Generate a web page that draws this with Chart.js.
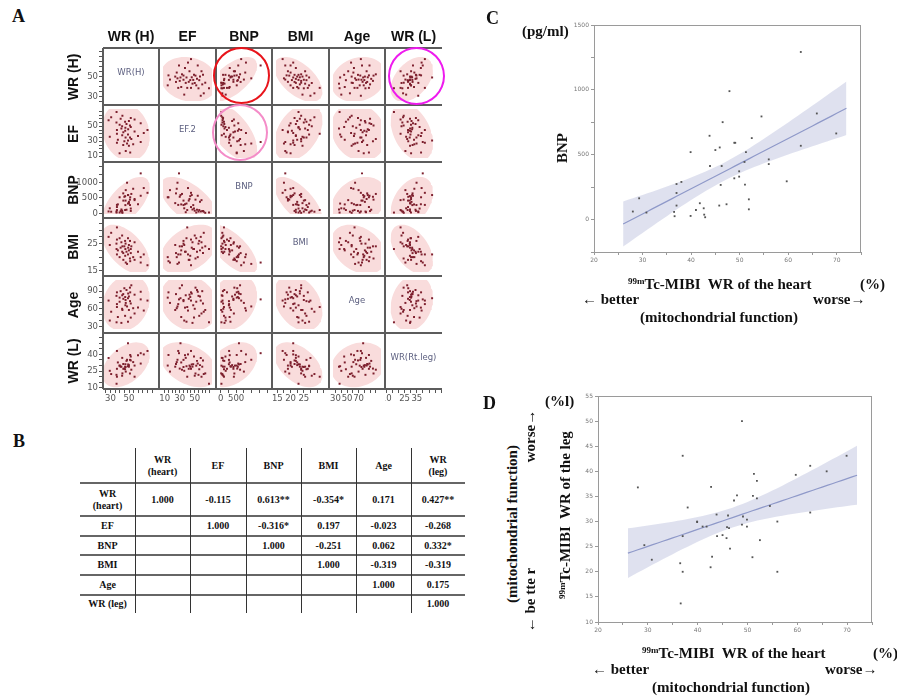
<!DOCTYPE html>
<html>
<head>
<meta charset="utf-8">
<script src="https://cdn.jsdelivr.net/npm/chart.js@4/dist/chart.umd.min.js"></script>
<style>
  body { margin: 0; width: 897px; height: 698px; position: relative; overflow: hidden; background: #fff; }
  .t { position: absolute; white-space: nowrap; font: bold 15px "Liberation Serif", serif; color: #111; line-height: 17px; }
  .t sup { font-size: 9px; vertical-align: 5px; line-height: 0; }
  .panel { position: absolute; font: bold 18px "Liberation Serif", serif; color: #111; }
  .rot { transform: translate(-50%, -50%) rotate(-90deg); }
  .hdr { position: absolute; font: bold 14px "Liberation Sans", Arial, sans-serif; color: #111; text-align: center; white-space: nowrap; }
  .diag { position: absolute; font: 8.5px "DejaVu Sans", sans-serif; color: #5d6080; text-align: center; white-space: nowrap; }
  .line { position: absolute; background: #5c5c5c; }
  .ring { position: absolute; border-radius: 50%; box-sizing: border-box; }
  .cell { position: absolute; font: bold 10px "Liberation Serif", serif; color: #111; text-align: center; display: flex; align-items: center; justify-content: center; line-height: 12px; white-space: pre; }
  canvas { position: absolute; }
</style>
</head>
<body>
<script>
// one entry per patient, paired by WR of the heart (panels C and D)
const WR_HEART = [28.0, 29.3, 30.8, 36.5, 36.6, 37.0, 37.0, 37.0, 38.0, 39.9, 39.9, 41.0, 41.8, 42.6, 42.7,
  42.9, 43.8, 43.9, 45.0, 45.8, 45.9, 46.1, 46.3, 46.5, 47.3, 47.9, 48.9, 49.1, 48.9, 49.9,
  49.9, 51.0, 51.1, 51.3, 51.9, 51.9, 52.5, 54.5, 56.0, 56.0, 59.7, 62.6, 62.6, 65.9, 69.9];
const BNP = [62, 164, 54, 59, 26, 274, 205, 108, 290, 520, 28, 74, 126, 87, 38,
  18, 646, 413, 536, 108, 556, 267, 413, 751, 118, 990, 592, 592, 318, 372,
  331, 444, 269, 520, 156, 79, 628, 795, 464, 428, 295, 1292, 569, 818, 664];
const WR_LEG = [36.8, 25.3, 22.4, 21.7, 13.7, 43.1, 27.1, 20.0, 32.8, 30.0, 29.9, 29.0, 29.0, 20.9, 36.9,
  23.0, 31.4, 27.1, 27.3, 26.7, 28.9, 31.2, 28.7, 24.6, 34.2, 35.2, 50.0, 31.0, 29.4, 30.4,
  29.0, 22.9, 35.1, 39.5, 38.1, 34.6, 26.3, 33.1, 30.0, 20.0, 39.3, 41.1, 31.8, 40.0, 43.1];
const EF = [58, 36, 62, 55, 69, 28, 45, 40, 32, 14, 52, 60, 47, 50, 38,
  64, 25, 42, 30, 56, 44, 48, 35, 17, 53, 27, 31, 46, 39, 57,
  24, 51, 35, 15, 49, 61, 33, 26, 43, 59, 37, 29, 54, 41, 45];
const BMI = [27.5, 24.5, 29, 25, 23, 21, 26.5, 31, 22.5, 20, 27, 23.5, 25.5, 28, 22,
  24, 21.5, 19, 24, 26, 20.5, 23, 25, 18, 22, 17.5, 21, 23.5, 27, 22.5,
  24.5, 19.5, 26, 18.5, 23, 21.5, 24, 20, 19, 25.5, 22, 18, 20, 21, 17];
const AGE = [74, 40, 55, 82, 37, 68, 88, 63, 46, 79, 72, 90, 36, 60, 83,
  58, 85, 77, 95, 48, 80, 66, 75, 70, 92, 64, 78, 86, 38, 81,
  58, 96, 73, 88, 45, 69, 100, 61, 84, 52, 62, 76, 89, 57, 74];

// scatter matrix axes
const HEADERS = ["WR (H)", "EF", "BNP", "BMI", "Age", "WR (L)"];
const DIAG_LABELS = ["WR(H)", "EF.2", "BNP", "BMI", "Age", "WR(Rt.leg)"];
const AXIS_MIN = [22, 7.7, -20, 14.5, 25.6, 9];
const AXIS_MAX = [78, 73, 1530, 33, 109, 55.6];
const TICK_STEP = [5, 5, 250, 2.5, 10, 5];
const Y_TICK_LABELS = [[30, 50], [10, 30, 50], [0, 500, 1000], [15, 25], [30, 60, 90], [10, 25, 40]];
const X_TICK_LABELS = [[30, 50], [10, 30, 50], [0, 500], [15, 20, 25], [30, 50, 70], [10, 25, 35]];
const ELLIPSE_CHI2 = 7.824; // 98% coverage

// correlation table (panel B)
const TABLE_HEAD = ["WR\n(heart)", "EF", "BNP", "BMI", "Age", "WR\n(leg)"];
const TABLE_ROWS = ["WR\n(heart)", "EF", "BNP", "BMI", "Age", "WR (leg)"];
const TABLE_VALUES = [
  ["1.000", "-0.115", "0.613**", "-0.354*", "0.171", "0.427**"],
  ["", "1.000", "-0.316*", "0.197", "-0.023", "-0.268"],
  ["", "", "1.000", "-0.251", "0.062", "0.332*"],
  ["", "", "", "1.000", "-0.319", "-0.319"],
  ["", "", "", "", "1.000", "0.175"],
  ["", "", "", "", "", "1.000"],
];

// regression panels
const C_X_LABELS = [20, 30, 40, 50, 60, 70];
const C_Y_LABELS = [0, 500, 1000, 1500];
const D_Y_LABELS = [10, 15, 20, 25, 30, 35, 40, 45, 50, 55];
const FIT_RANGE = [26, 72];
const T_975 = 2.017;

// layout
const COL_X = [103, 159, 216, 272, 329, 385, 442];
const ROW_Y = [48, 105, 162, 218, 276, 333, 389];
const Y_AXIS_W = 32, X_AXIS_H = 20;
const TABLE_X = [80, 135, 190, 246, 301, 356, 411, 465];
const TABLE_Y = [448, 483, 516, 536, 555, 575, 595, 613];

Chart.defaults.animation = false;
Chart.defaults.events = [];
Chart.defaults.plugins.legend.display = false;
Chart.defaults.plugins.tooltip.enabled = false;

function add(html, cls, css) {
  const d = document.createElement("div");
  d.className = cls;
  d.innerHTML = html;
  Object.assign(d.style, css);
  document.body.appendChild(d);
  return d;
}

function stepTicks(min, max, step) {
  const out = [];
  for (let v = Math.ceil(min / step) * step; v <= max + 1e-9; v += step) out.push({ value: +v.toFixed(6) });
  return out;
}

function mean(a) { return a.reduce((s, v) => s + v, 0) / a.length; }

// density ellipse from the sample covariance
function densityEllipse(xs, ys) {
  const n = xs.length, mx = mean(xs), my = mean(ys);
  let sxx = 0, syy = 0, sxy = 0;
  for (let i = 0; i < n; i++) {
    sxx += (xs[i] - mx) ** 2; syy += (ys[i] - my) ** 2; sxy += (xs[i] - mx) * (ys[i] - my);
  }
  sxx /= n - 1; syy /= n - 1; sxy /= n - 1;
  const l11 = Math.sqrt(sxx), l21 = sxy / l11, l22 = Math.sqrt(Math.max(syy - l21 * l21, 0));
  const k = Math.sqrt(ELLIPSE_CHI2);
  const pts = [];
  for (let i = 0; i <= 72; i++) {
    const t = (i / 72) * 2 * Math.PI;
    pts.push({ x: mx + k * l11 * Math.cos(t), y: my + k * (l21 * Math.cos(t) + l22 * Math.sin(t)) });
  }
  return pts;
}

function fitBand(xs, ys) {
  const n = xs.length, mx = mean(xs), my = mean(ys);
  let sxx = 0, sxy = 0;
  for (let i = 0; i < n; i++) { sxx += (xs[i] - mx) ** 2; sxy += (xs[i] - mx) * (ys[i] - my); }
  const b = sxy / sxx, a = my - b * mx;
  let sse = 0;
  for (let i = 0; i < n; i++) sse += (ys[i] - a - b * xs[i]) ** 2;
  const s = Math.sqrt(sse / (n - 2));
  const line = [], hi = [], lo = [];
  for (let x = FIT_RANGE[0]; x <= FIT_RANGE[1]; x += 1) {
    const yh = a + b * x, se = s * Math.sqrt(1 / n + (x - mx) ** 2 / sxx);
    line.push({ x, y: yh }); hi.push({ x, y: yh + T_975 * se }); lo.push({ x, y: yh - T_975 * se });
  }
  return { line, hi, lo };
}

function matrixAxis(v, show, horizontal) {
  const labels = horizontal ? X_TICK_LABELS[v] : Y_TICK_LABELS[v];
  return {
    type: "linear", min: AXIS_MIN[v], max: AXIS_MAX[v], display: show,
    afterBuildTicks: (s) => { s.ticks = stepTicks(AXIS_MIN[v], AXIS_MAX[v], TICK_STEP[v]); },
    afterFit: show ? (s) => {
      if (horizontal) { s.height = X_AXIS_H; s.paddingLeft = 0; s.paddingRight = 0; }
      else { s.width = Y_AXIS_W; s.paddingTop = 0; s.paddingBottom = 0; }
    } : undefined,
    ticks: {
      autoSkip: false, maxRotation: 0, padding: 1, color: "#555",
      font: { family: "DejaVu Sans", size: 8.5 },
      callback: (val) => (labels.includes(val) ? String(val) : ""),
    },
    grid: { drawOnChartArea: false, tickLength: 4, color: "#555" },
    border: { display: false },
  };
}

function makeCanvas(left, top, w, h) {
  const cv = document.createElement("canvas");
  cv.width = w; cv.height = h;
  Object.assign(cv.style, { left: left + "px", top: top + "px", width: w + "px", height: h + "px" });
  document.body.appendChild(cv);
  return cv;
}

const VARS = [WR_HEART, EF, BNP, BMI, AGE, WR_LEG];

function makeCell(r, c) {
  const showY = c === 0, showX = r === 5;
  const w = COL_X[c + 1] - COL_X[c], h = ROW_Y[r + 1] - ROW_Y[r];
  const cv = makeCanvas(COL_X[c] - (showY ? Y_AXIS_W : 0), ROW_Y[r],
    w + (showY ? Y_AXIS_W : 0), h + (showX ? X_AXIS_H : 0));
  const datasets = [];
  if (r !== c) {
    const xs = VARS[c], ys = VARS[r];
    datasets.push({
      data: xs.map((x, i) => ({ x, y: ys[i] })), showLine: false, order: 0,
      pointStyle: "rect", pointRadius: 1.4, pointBorderWidth: 0, pointBackgroundColor: "#7d1f2d",
    });
    datasets.push({
      data: densityEllipse(xs, ys), order: 1, pointRadius: 0, borderWidth: 0,
      fill: "shape", backgroundColor: "#f9dcdc", tension: 0,
    });
  }
  if (datasets.length || showX || showY) {
    new Chart(cv, {
      type: "line",
      data: { datasets },
      options: {
        responsive: false, layout: { padding: 0 },
        scales: { x: matrixAxis(c, showX, true), y: matrixAxis(r, showY, false) },
      },
    });
  }
  if (r === c) {
    add(DIAG_LABELS[r], "diag", { left: COL_X[c] + "px", width: w + "px", top: ROW_Y[r] + 19 + "px" });
  }
}

for (let r = 0; r < 6; r++) for (let c = 0; c < 6; c++) makeCell(r, c);

// matrix frame
for (let c = 0; c < 6; c++) {
  add("", "line", { left: COL_X[c] - 1 + "px", top: ROW_Y[0] + "px", width: "1.5px", height: ROW_Y[6] - ROW_Y[0] + "px" });
}
for (let r = 0; r < 7; r++) {
  add("", "line", { left: COL_X[0] + "px", top: ROW_Y[r] - 1 + "px", width: COL_X[6] - COL_X[0] + "px", height: "1.5px" });
}
HEADERS.forEach((name, i) => {
  const cx = (COL_X[i] + COL_X[i + 1]) / 2;
  add(name, "hdr", { left: cx - 40 + "px", width: "80px", top: "28px" });
  const cy = (ROW_Y[i] + ROW_Y[i + 1]) / 2;
  add(name, "hdr rot", { left: "73px", top: cy + "px" });
});

// highlighted cells
add("", "ring", { left: "213px", top: "47px", width: "57px", height: "57px", border: "2.5px solid #e8141b" });
add("", "ring", { left: "388px", top: "47px", width: "57px", height: "58px", border: "2.5px solid #ee1bee" });
add("", "ring", { left: "212px", top: "104px", width: "56px", height: "57px", border: "2px solid #f48cc8" });

// panel B
for (let j = 0; j < 7; j++) {
  const lbl = j === 0 ? "" : TABLE_HEAD[j - 1];
  add(lbl, "cell", { left: TABLE_X[j] + "px", width: TABLE_X[j + 1] - TABLE_X[j] + "px", top: TABLE_Y[0] + "px", height: TABLE_Y[1] - TABLE_Y[0] + "px" });
}
TABLE_ROWS.forEach((name, i) => {
  const top = TABLE_Y[i + 1], h = TABLE_Y[i + 2] - top;
  add(name, "cell", { left: TABLE_X[0] + "px", width: TABLE_X[1] - TABLE_X[0] + "px", top: top + "px", height: h + "px" });
  TABLE_VALUES[i].forEach((v, j) => {
    add(v, "cell", { left: TABLE_X[j + 1] + "px", width: TABLE_X[j + 2] - TABLE_X[j + 1] + "px", top: top + "px", height: h + "px" });
  });
});
for (let i = 1; i < TABLE_Y.length - 1; i++) {
  add("", "line", { left: TABLE_X[0] + "px", width: TABLE_X[7] - TABLE_X[0] + "px", top: TABLE_Y[i] - 1 + "px", height: "2px", background: "#666" });
}
for (let j = 1; j < TABLE_X.length - 1; j++) {
  add("", "line", { left: TABLE_X[j] + "px", width: "1px", top: TABLE_Y[0] + "px", height: TABLE_Y[7] - TABLE_Y[0] + "px", background: "#333" });
}

// panels C and D
const framePlugin = {
  id: "frame",
  afterDraw(chart) {
    const { ctx, chartArea: a } = chart;
    ctx.save();
    ctx.strokeStyle = "#9a9a9a"; ctx.lineWidth = 1;
    ctx.strokeRect(Math.round(a.left) + 0.5, Math.round(a.top) + 0.5, Math.round(a.width) - 1, Math.round(a.height));
    ctx.restore();
  },
};

function regAxis(min, max, step, labels, horizontal, size) {
  return {
    type: "linear", min, max,
    afterBuildTicks: (s) => { s.ticks = stepTicks(min, max, step); },
    afterFit: (s) => {
      if (horizontal) { s.height = size; s.paddingLeft = 0; s.paddingRight = 0; }
      else { s.width = size; s.paddingTop = 0; s.paddingBottom = 0; }
    },
    ticks: {
      autoSkip: false, maxRotation: 0, padding: 2, color: "#777",
      font: { family: "DejaVu Sans", size: 6 },
      callback: (val) => (labels.includes(val) ? String(val) : ""),
    },
    grid: { drawOnChartArea: false, tickLength: 3, color: "#999" },
    border: { display: false },
  };
}

function makeRegression(box, ys, yMin, yMax, yStep, yLabels) {
  const cv = makeCanvas(box.left, box.top, box.w, box.h);
  const band = fitBand(WR_HEART, ys);
  new Chart(cv, {
    type: "line",
    data: {
      datasets: [
        { data: WR_HEART.map((x, i) => ({ x, y: ys[i] })), showLine: false, order: 0,
          pointStyle: "rect", pointRadius: 1.3, pointBorderWidth: 0, pointBackgroundColor: "#555" },
        { data: band.line, order: 1, pointRadius: 0, borderColor: "#8f99c9", borderWidth: 1.2, fill: false },
        { data: band.hi, order: 2, pointRadius: 0, borderWidth: 0, borderColor: "rgba(0,0,0,0)", fill: false },
        { data: band.lo, order: 3, pointRadius: 0, borderWidth: 0, borderColor: "rgba(0,0,0,0)",
          fill: "-1", backgroundColor: "rgba(196,200,226,0.55)" },
      ],
    },
    options: {
      responsive: false,
      layout: { padding: { top: box.padTop, right: box.padRight } },
      scales: {
        x: regAxis(20, 75, 5, C_X_LABELS, true, box.xH),
        y: regAxis(yMin, yMax, yStep, yLabels, false, box.yW),
      },
    },
    plugins: [framePlugin],
  });
}

makeRegression({ left: 555, top: 15, w: 315, h: 262, padTop: 10, padRight: 9, xH: 25, yW: 39 },
  BNP, -250, 1500, 250, C_Y_LABELS);
makeRegression({ left: 560, top: 385, w: 320, h: 262, padTop: 11, padRight: 8, xH: 25, yW: 38 },
  WR_LEG, 10, 55, 5, D_Y_LABELS);

// texts
add("A", "panel", { left: "12px", top: "6px" });
add("B", "panel", { left: "13px", top: "431px" });
add("C", "panel", { left: "486px", top: "8px" });
add("D", "panel", { left: "483px", top: "393px" });

add("(pg/ml)", "t", { left: "522px", top: "23px" });
add("BNP", "t rot", { left: "562px", top: "148px" });
add("<sup>99m</sup>Tc-MIBI&nbsp; WR of the heart", "t", { left: "628px", top: "276px" });
add("(%)", "t", { left: "860px", top: "276px" });
add("← better", "t", { left: "582px", top: "291px" });
add("worse→", "t", { left: "813px", top: "291px" });
add("(mitochondrial function)", "t", { left: "640px", top: "309px" });

add("(%l)", "t", { left: "545px", top: "393px" });
add("(mitochondrial function)", "t rot", { left: "512px", top: "524px" });
add("worse→", "t rot", { left: "530px", top: "436px" });
add("← be tte r", "t rot", { left: "530px", top: "600px" });
add("<sup>99m</sup>Tc-MIBI&nbsp; WR of the leg", "t rot", { left: "565px", top: "515px" });
add("<sup>99m</sup>Tc-MIBI&nbsp; WR of the heart", "t", { left: "642px", top: "645px" });
add("(%)", "t", { left: "873px", top: "645px" });
add("← better", "t", { left: "592px", top: "661px" });
add("worse→", "t", { left: "825px", top: "661px" });
add("(mitochondrial function)", "t", { left: "652px", top: "679px" });
</script>
</body>
</html>
